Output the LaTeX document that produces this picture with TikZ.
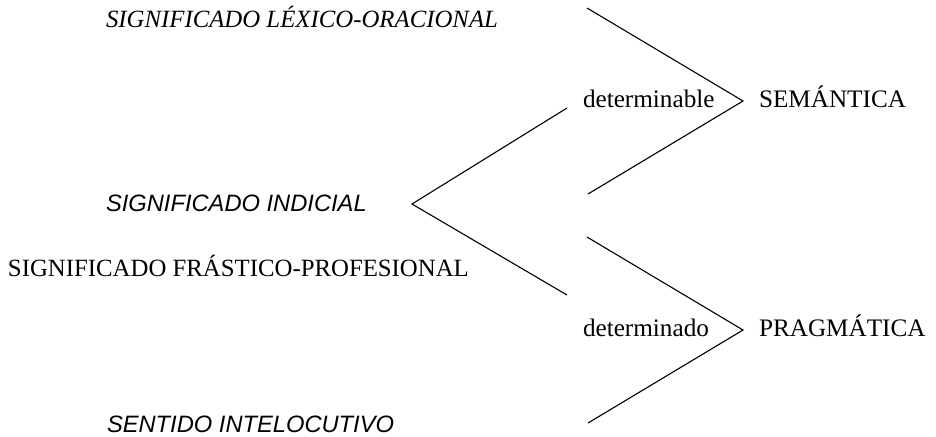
\documentclass[tikz,border=0pt]{standalone}
\usepackage{fontspec}
\setmainfont{Liberation Serif}
\setsansfont{Liberation Sans}
\usetikzlibrary{positioning, calc, math}
\tikzset{
every node/.style = {inner sep = 0pt, outer sep = 0pt, anchor = base west},
meaning/.style = {font = \fontsize{12.4}{14}\selectfont\itshape},
sense/.style = {font = \fontsize{11.85}{14}\selectfont\sffamily\itshape},
phrase/.style = {font = \fontsize{12.4}{14}\selectfont},
mode/.style = {font = \fontsize{12.6}{14}\selectfont},
level/.style = {font = \fontsize{12.6}{15}\selectfont},
branch/.style = {line width = 0.55pt, line join = miter}
}

\begin{document}
\begin{tikzpicture}[x = 0.5pt, y = -0.5pt]
\useasboundingbox (0,0) rectangle (936,436);

%% Meanings
\node [meaning] (lexico) at (106, 27) {SIGNIFICADO LÉXICO-ORACIONAL};
\node [sense] (indicial) at (106, 211) {SIGNIFICADO INDICIAL};
\node [phrase] (frastico) at (8, 276) {SIGNIFICADO FRÁSTICO-PROFESIONAL};
\node [sense] (sentido) at (107, 432) {SENTIDO INTELOCUTIVO};

%% Left fork
\coordinate (root) at (412, 204);
\coordinate (up) at (567, 108);
\coordinate (down) at (567, 295);
\draw [branch] (up) -- (root) -- (down);

%% Right forks
\def\list{1/determinable/SEMÁNTICA, 2/determinado/PRAGMÁTICA}
\foreach \i/\j/\k in \list {
   \tikzmath{\y = 101 + 229 * (\i - 1);}     % y-coord of tip
   \coordinate (tip\i) at (743, \y);
   \coordinate (top\i) at ($(tip\i) + (-156, -93)$);
   \coordinate (bot\i) at ($(tip\i) + (-155, 93)$);
   \draw [branch] (top\i) -- (tip\i) -- (bot\i);

   \node [mode] (mode\i) at (583, \y + 6) {\j};
   \node [level] (level\i) at (759, \y + 6) {\k};
}

\end{tikzpicture}
\end{document}
